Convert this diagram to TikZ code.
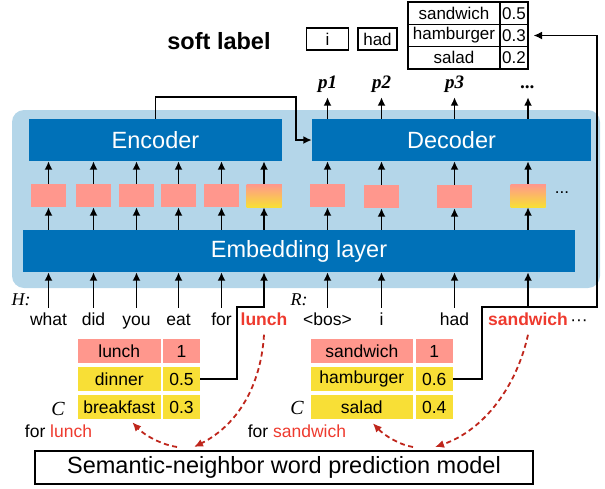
\documentclass[tikz,border=0pt]{standalone}
\usepackage{fontspec}
\setmainfont{Liberation Sans}
\newfontfamily\timesfont{Liberation Serif}
\usepackage{tikz}
\usetikzlibrary{arrows.meta}

\definecolor{bgblue}{HTML}{B4D6E9}
\definecolor{boxblue}{HTML}{0071B8}
\definecolor{pinkcell}{HTML}{FF978D}
\definecolor{yellowcell}{HTML}{F8DF36}
\definecolor{wordred}{HTML}{EE3A2E}
\definecolor{dashred}{HTML}{BF261C}

\tikzset{
  block/.style={fill=boxblue, text=white, minimum height=42pt, inner sep=0pt,
    font=\fontsize{23.5}{25}\selectfont},
  vec/.style={fill=pinkcell, minimum width=35pt, minimum height=23pt, inner sep=0pt},
  vecmix/.style={vec, top color=pinkcell, bottom color=yellowcell},
  word/.style={anchor=base, inner sep=0pt, text height=13pt, text depth=4pt,
    font=\fontsize{17.5}{19}\selectfont},
  hotword/.style={word, text=wordred, font=\fontsize{17.5}{19}\selectfont\bfseries},
  plab/.style={anchor=base, inner sep=0pt, text depth=0pt,
    font=\fontsize{19}{20}\timesfont\bfseries\itshape},
  var/.style={inner sep=0pt, font=\fontsize{18}{20}\timesfont\itshape},
  cell/.style={minimum height=24pt, inner sep=0pt, font=\fontsize{17.5}{19}\selectfont},
  hot/.style={cell, fill=pinkcell},
  near/.style={cell, fill=yellowcell},
  slab/.style={draw, line width=1.3pt, minimum height=22.3pt, inner sep=0pt,
    font=\fontsize{17}{19}\selectfont},
  up/.style={-{Latex[length=8.5pt,width=8pt]}, line width=1.7pt},
  link/.style={line width=1.7pt},
  guess/.style={dashred, line width=1.8pt, dash pattern=on 5pt off 3.5pt,
    -{Latex[length=9pt,width=8pt]}}
}

\begin{document}
\begin{tikzpicture}[x=1pt,y=-1pt]
  \useasboundingbox (0,0) rectangle (605,488);
  \fill[bgblue, rounded corners=12pt] (12,110) rectangle (600,288);

  % seq2seq model
  \node[block, minimum width=253pt] (enc) at (155.5,140) {Encoder};
  \node[block, minimum width=279pt] (dec) at (451.5,140) {Decoder};
  \node[block, minimum width=552pt] (emb) at (299,251) {Embedding layer};

  \foreach \x [count=\i] in {48.5,93.5,136.5,178.5,221.5}
    \node[vec] (v\i) at (\x,195.5) {};
  \node[vecmix] (v6) at (264,195.5) {};
  \node[vec] (v7) at (327.5,195.5) {};
  \node[vec] (v8) at (381.5,196.5) {};
  \node[vec] (v9) at (454.5,196.5) {};
  \node[vecmix] (v10) at (528,195.5) {};
  \node[inner sep=0pt, font=\fontsize{17}{17}\selectfont] (vdots) at (562,193) {...};

  % input words
  \node[var] (hlab) at (21,300) {H:};
  \node[var] (rlab) at (299,300) {R:};
  \node[word] (w1) at (48.5,325.5) {what};
  \node[word] (w2) at (93.5,325.5) {did};
  \node[word] (w3) at (136.5,325.5) {you};
  \node[word] (w4) at (178.5,325.5) {eat};
  \node[word] (w5) at (221.5,325.5) {for};
  \node[hotword] (w6) at (264,325.5) {lunch};
  \node[word] (w7) at (327.5,325.5) {<bos>};
  \node[word] (w8) at (381.5,325.5) {i};
  \node[word] (w9) at (454.5,325.5) {had};
  \node[hotword] (w10) at (528,325.5) {sandwich};
  \node[word] (wdots) at (579,325.5) {···};

  \foreach \i in {1,...,10} {
    \draw[up] ([yshift=4.5pt]w\i.north) -- (w\i.north |- emb.south);
    \draw[up] (emb.north -| v\i) -- (v\i.south);
  }
  \foreach \i in {1,...,6}
    \draw[up] (v\i.north) -- (v\i.north |- enc.south);
  \foreach \i in {7,...,10}
    \draw[up] (v\i.north) -- (v\i.north |- dec.south);

  % outputs
  \node[plab] (p1) at (327.5,88) {p1};
  \node[plab] (p2) at (381.5,88) {p2};
  \node[plab] (p3) at (454.5,88) {p3};
  \node[plab] (p4) at (528,88) {...};
  \foreach \i in {1,...,4}
    \draw[up] (dec.north -| p\i) -- ([yshift=-9pt]p\i.south);

  \coordinate (bend) at (296,97);
  \draw[up] (enc.north) |- (bend) |- (dec.west);

  % soft label
  \node[inner sep=0pt, font=\fontsize{23.5}{25}\selectfont\bfseries] (soft) at (219,41) {soft label};
  \node[slab, minimum width=41.6pt, minimum height=22pt] (ilab) at (327.5,39) {i};
  \node[slab, minimum width=39pt, minimum height=22pt] (hadlab) at (377.5,39) {had};
  \node[slab, minimum width=92pt] (st1) at (454,13.2) {sandwich};
  \node[slab, minimum width=27.7pt] (sv1) at (514,13.2) {0.5};
  \node[slab, minimum width=92pt] (st2) at (454,35.5) {hamburger};
  \node[slab, minimum width=27.7pt] (sv2) at (514,35.5) {0.3};
  \node[slab, minimum width=92pt] (st3) at (454,57.8) {salad};
  \node[slab, minimum width=27.7pt] (sv3) at (514,57.8) {0.2};

  % candidate tables
  \node[hot, minimum width=82.7pt] (lw) at (119.3,351) {lunch};
  \node[hot, minimum width=37pt] (lv) at (181.5,351) {1};
  \node[near, minimum width=82.7pt] (dw) at (119.3,379) {dinner};
  \node[near, minimum width=37pt] (dv) at (181.5,379) {0.5};
  \node[near, minimum width=82.7pt] (bw) at (119.3,407) {breakfast};
  \node[near, minimum width=37pt] (bv) at (181.5,407) {0.3};
  \node[var, font=\fontsize{20}{22}\timesfont\itshape] (c1) at (58,409) {C};
  \node[cell] (f1) at (58.5,431) {for \textcolor{wordred}{lunch}};

  \node[hot, minimum width=102.3pt] (sw) at (361.8,351) {sandwich};
  \node[hot, minimum width=37pt] (sv) at (434.2,351) {1};
  \node[near, minimum width=102.3pt] (hw) at (361.8,379) {hamburger};
  \node[near, minimum width=37pt] (hv) at (434.2,379) {0.6};
  \node[near, minimum width=102.3pt] (aw) at (361.8,407) {salad};
  \node[near, minimum width=37pt] (av) at (434.2,407) {0.4};
  \node[var, font=\fontsize{20}{22}\timesfont\itshape] (c2) at (297,408) {C};
  \node[cell] (f2) at (297,431) {for \textcolor{wordred}{sandwich}};

  \coordinate (lj) at (264,307);
  \coordinate (rj) at (597,307);
  \draw[link] (dv.east) -- ++(37,0) |- (lj);
  \draw[up, shorten >=5pt] (hv.east) -- ++(29,0) |- (rj) |- (sv2.east);

  % prediction model
  \node[draw, line width=1.3pt, minimum width=498pt, minimum height=33pt, inner sep=0pt,
    font=\fontsize{23.5}{25}\selectfont] (model) at (284,467.5) {Semantic-neighbor word prediction model};
  \coordinate (lin) at (194,447);
  \coordinate (lout) at (177,447);
  \coordinate (sin) at (435,447);
  \coordinate (sout) at (413,447);
  \draw[guess] ([yshift=-5pt]w6.south) .. controls (261,385) and (238,425) .. (lin);
  \draw[guess] (lout) .. controls (163,445) and (145,436) .. ([xshift=13pt,yshift=-3pt]bw.south);
  \draw[guess] ([yshift=-5pt]w10.south) .. controls (517,385) and (485,430) .. (sin);
  \draw[guess] (sout) .. controls (400,445) and (385,436) .. ([xshift=11pt,yshift=-4pt]aw.south);
\end{tikzpicture}
\end{document}
